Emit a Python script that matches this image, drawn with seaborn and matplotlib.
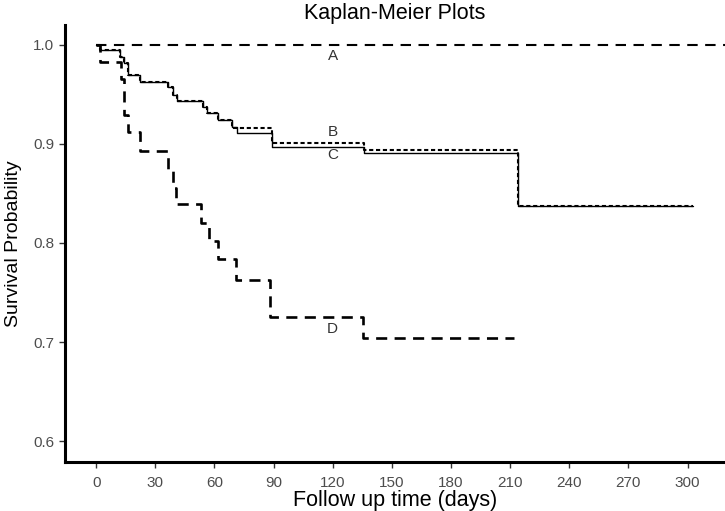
import matplotlib
matplotlib.use("Agg")
import matplotlib.pyplot as plt
import seaborn as sns

# survival curves (step functions)
a_time = [0, 322]
a_surv = [1.0, 1.0]

b_time = [0, 2, 12, 14, 16, 22, 36.5, 39, 41, 54, 56, 62, 69, 89, 136, 214, 303]
b_surv = [1.0, 0.995, 0.988, 0.982, 0.970, 0.963, 0.957, 0.949, 0.943, 0.937,
          0.931, 0.924, 0.916, 0.901, 0.894, 0.837, 0.837]

c_time = [0, 2, 12, 14, 16, 22, 36.5, 39, 41, 54, 56, 62, 69, 71.5, 89, 136, 214, 303]
c_surv = [1.0, 0.995, 0.988, 0.982, 0.970, 0.963, 0.957, 0.949, 0.943, 0.937,
          0.931, 0.924, 0.917, 0.911, 0.897, 0.891, 0.837, 0.837]

d_time = [0, 2, 12.5, 14, 16, 22, 36.5, 39, 40.5, 53, 57, 62, 71, 88, 135.5, 212]
d_surv = [1.0, 0.983, 0.966, 0.929, 0.912, 0.893, 0.875, 0.856, 0.839, 0.820,
          0.802, 0.784, 0.763, 0.725, 0.704, 0.704]

labels = ["A", "B", "C", "D"]
label_pos = [(120, 0.989), (120, 0.912), (120, 0.889), (120, 0.713)]

x_ticks = [0, 30, 60, 90, 120, 150, 180, 210, 240, 270, 300]
y_ticks = [0.6, 0.7, 0.8, 0.9, 1.0]

sns.set_theme(style="white")
plt.rcParams['font.family'] = ['Liberation Sans', 'DejaVu Sans']

fig = plt.figure(figsize=(7.25, 5.11), dpi=100)
ax = fig.add_axes([0.09, 0.096, 0.91, 0.855])

styles = [
    (a_time, a_surv, (0, (5.0, 3.6)), 1.5),
    (b_time, b_surv, (0, (2.0, 1.3)), 1.5),
    (c_time, c_surv, '-', 1.0),
    (d_time, d_surv, (0, (4.2, 2.8)), 1.9),
]
for t, s, ls, lw in styles:
    sns.lineplot(x=t, y=s, ax=ax, color='black', linestyle=ls, linewidth=lw,
                 drawstyle='steps-post', estimator=None, sort=False)

for lab, (tx, ty) in zip(labels, label_pos):
    ax.text(tx, ty, lab, ha='center', va='center', fontsize=11, color='#333333')

ax.set_xlim(-15.7, 319)
ax.set_ylim(0.579, 1.02)
ax.set_xticks(x_ticks)
ax.set_yticks(y_ticks)
ax.set_yticklabels([f"{v:.1f}" for v in y_ticks])

sns.despine(ax=ax)
for side in ['left', 'bottom']:
    ax.spines[side].set_linewidth(2.2)
    ax.spines[side].set_color('black')

ax.tick_params(axis='both', which='major', direction='out', length=4, width=1, pad=4,
               color='#333333', labelcolor='#4d4d4d', labelsize=11, bottom=True, left=True)
ax.tick_params(axis='x', pad=6)

ax.set_xlabel("Follow up time (days)", fontsize=15.5, color='black')
ax.set_ylabel("Survival Probability", fontsize=14, color='black')
ax.xaxis.set_label_coords(0.5, -0.064)
ax.yaxis.set_label_coords(-0.066, 0.5)
fig.text(0.09 + 0.91 / 2, 1 - 13 / 511, "Kaplan-Meier Plots", ha='center', va='center',
         fontsize=15.5, color='black')

fig.savefig("out.png", dpi=100)
